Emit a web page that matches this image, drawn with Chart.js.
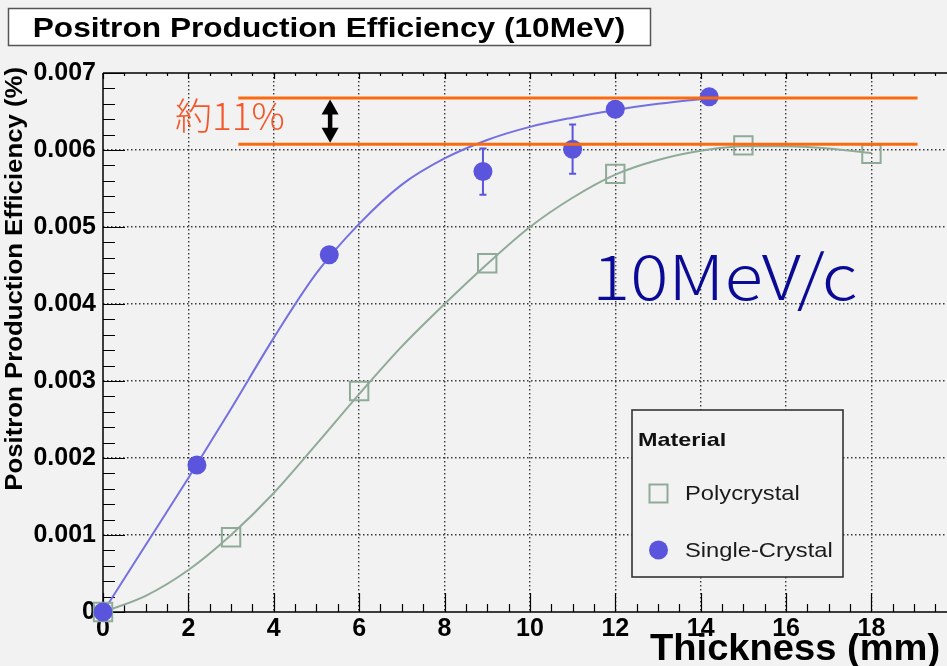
<!DOCTYPE html>
<html>
<head>
<meta charset="utf-8">
<script src="https://cdn.jsdelivr.net/npm/chart.js@4.4.1/dist/chart.umd.min.js"></script>
<style>
  html, body { margin: 0; padding: 0; background: #f2f2f2; }
  #wrap { width: 947px; height: 666px; position: relative; overflow: hidden; }
</style>
</head>
<body>
<div id="wrap"><canvas id="c" width="947" height="666"></canvas></div>
<script>
// Measured positron production efficiency (%) vs target thickness (mm), 10 MeV
const thicknessPoly   = [0, 3, 6, 9, 12, 15, 18];
const effPoly         = [0, 0.00097, 0.00287, 0.00453, 0.00569, 0.00606, 0.00595];

const thicknessSingle = [0, 2.2, 5.3, 8.9, 11.0, 12.0, 14.2];
const effSingle       = [0, 0.00191, 0.00464, 0.00572, 0.00601, 0.00653, 0.00669];
const errSingle       = [0, 0.00008, 0.00008, 0.00030, 0.00032, 0.00010, 0];

// Fitted curves through each material's points
const fitPolyX   = [0, 1, 2, 3, 4, 5, 6, 7, 8, 9, 10, 11, 12, 13, 14, 15, 16, 17, 18];
const fitPolyY   = [0, 0.00021, 0.000545, 0.00100, 0.001545, 0.00218, 0.00283, 0.00345, 0.00400,
                    0.00452, 0.00500, 0.00538, 0.00568, 0.00587, 0.00599, 0.00605, 0.00605, 0.00602, 0.00596];
const fitSingleX = [0, 1, 2, 3, 4, 5, 6, 7, 8, 9, 10, 11, 12, 13, 14, 14.2];
const fitSingleY = [0, 0.00087, 0.00174, 0.00264, 0.00356, 0.00440, 0.00504, 0.00555, 0.00589,
                    0.00613, 0.00630, 0.00642, 0.00652, 0.00660, 0.00666, 0.00667];

// Axis ticks
const xTicks = [0, 2, 4, 6, 8, 10, 12, 14, 16, 18];
const yTicks = [0, 0.001, 0.002, 0.003, 0.004, 0.005, 0.006, 0.007];

// Reference levels: single-crystal plateau vs polycrystal plateau
const refLevels = [0.006675, 0.006075];
const refLabel = '約11%';
const energyLabel = '10MeV/c';

const BLUE = '#5a55dc';
const BLUE_LINE = '#7470e2';
const GREEN = '#8fab98';
const ORANGE = '#fb6a0e';
const FONT = '"Liberation Sans", Arial, Helvetica, sans-serif';
const CJK = '"Noto Sans CJK JP", "Noto Sans", sans-serif';

const toPts = (xs, ys) => xs.map((x, i) => ({ x, y: ys[i] }));

// text drawn with a horizontal stretch factor
function stretchText(c, text, x, y, sx, align) {
  c.save();
  c.translate(x, y);
  c.scale(sx, 1);
  c.textAlign = align || 'left';
  c.fillText(text, 0, 0);
  c.restore();
}

const decorPlugin = {
  id: 'decor',
  beforeDraw(chart) {
    const c = chart.ctx;
    c.save();
    c.fillStyle = '#f2f2f2';
    c.fillRect(0, 0, chart.width, chart.height);
    // title box
    c.fillStyle = '#ffffff';
    c.fillRect(8, 8, 642, 37);
    c.strokeStyle = '#555';
    c.lineWidth = 1.5;
    c.strokeRect(8.5, 8.5, 642, 37);
    c.fillStyle = '#000';
    c.font = 'bold 28px ' + FONT;
    c.textBaseline = 'alphabetic';
    stretchText(c, 'Positron Production Efficiency (10MeV)', 329, 37, 1.13, 'center');
    c.restore();
  },
  beforeDatasetsDraw(chart) {
    const c = chart.ctx;
    const a = chart.chartArea;
    const xs = chart.scales.x, ys = chart.scales.y;
    c.save();
    c.strokeStyle = '#000';
    c.lineWidth = 1.5;
    // frame
    c.beginPath();
    c.moveTo(a.left, a.top); c.lineTo(a.right, a.top);
    c.moveTo(a.left, a.top); c.lineTo(a.left, a.bottom);
    c.moveTo(a.left, a.bottom); c.lineTo(a.right, a.bottom);
    c.stroke();
    // x ticks (major every 2, minor every 0.5), drawn inward
    c.lineWidth = 1.2;
    c.beginPath();
    for (let k = 0; k * 0.5 <= xs.max + 1e-9; k++) {
      const v = k * 0.5;
      const px = Math.round(xs.getPixelForValue(v)) + 0.5;
      const major = k % 4 === 0;
      c.moveTo(px, a.bottom); c.lineTo(px, a.bottom - (major ? 19 : 8));
      c.moveTo(px, a.top); c.lineTo(px, a.top + (major ? 6 : 3));
    }
    // y ticks (major every 0.001, minor every 0.0002)
    for (let k = 0; k <= 35; k++) {
      const v = k * 0.0002;
      const py = Math.round(ys.getPixelForValue(v)) + 0.5;
      const major = k % 5 === 0;
      c.moveTo(a.left, py); c.lineTo(a.left + (major ? 22 : 12), py);
    }
    c.stroke();
    // error bars on single-crystal points
    c.strokeStyle = BLUE;
    c.lineWidth = 2;
    c.beginPath();
    thicknessSingle.forEach((x, i) => {
      const e = errSingle[i];
      if (!e) return;
      const px = xs.getPixelForValue(x);
      const y1 = ys.getPixelForValue(effSingle[i] + e);
      const y2 = ys.getPixelForValue(effSingle[i] - e);
      c.moveTo(px, y1); c.lineTo(px, y2);
      c.moveTo(px - 3.5, y1); c.lineTo(px + 3.5, y1);
      c.moveTo(px - 3.5, y2); c.lineTo(px + 3.5, y2);
    });
    c.stroke();
    c.restore();
  },
  afterDraw(chart) {
    const c = chart.ctx;
    const xs = chart.scales.x, ys = chart.scales.y;
    c.save();

    // orange reference levels
    c.strokeStyle = ORANGE;
    c.lineWidth = 3;
    const xStart = xs.getPixelForValue(3.17);
    const xEnd = xs.getPixelForValue(19.08);
    refLevels.forEach(v => {
      const py = ys.getPixelForValue(v);
      c.beginPath(); c.moveTo(xStart, py); c.lineTo(xEnd, py); c.stroke();
    });

    // double-headed arrow between the levels
    const ax = xs.getPixelForValue(5.32);
    const yTop = ys.getPixelForValue(refLevels[0]) + 1.5;
    const yBot = ys.getPixelForValue(refLevels[1]) - 1.5;
    c.fillStyle = '#000';
    c.strokeStyle = '#000';
    c.lineWidth = 4.5;
    c.beginPath(); c.moveTo(ax, yTop + 12); c.lineTo(ax, yBot - 12); c.stroke();
    c.beginPath(); c.moveTo(ax, yTop); c.lineTo(ax - 8.5, yTop + 15); c.lineTo(ax + 8.5, yTop + 15); c.closePath(); c.fill();
    c.beginPath(); c.moveTo(ax, yBot); c.lineTo(ax - 8.5, yBot - 15); c.lineTo(ax + 8.5, yBot - 15); c.closePath(); c.fill();

    c.fillStyle = '#f4572a';
    c.font = '300 37px ' + CJK;
    c.textAlign = 'left';
    c.textBaseline = 'alphabetic';
    c.fillText(refLabel, 175, 130);

    c.fillStyle = '#0a0a96';
    c.font = '300 62px ' + CJK;
    stretchText(c, energyLabel, 592, 300, 1.15, 'left');

    // axis titles
    c.fillStyle = '#000';
    c.font = 'bold 37px ' + FONT;
    stretchText(c, 'Thickness (mm)', 650, 660, 1.03, 'left');

    c.save();
    c.translate(22, 67);
    c.rotate(-Math.PI / 2);
    c.scale(1.12, 1);
    c.font = 'bold 23px ' + FONT;
    c.textAlign = 'right';
    c.textBaseline = 'alphabetic';
    c.fillText('Positron Production Efficiency (%)', 0, 0);
    c.restore();

    // legend
    c.fillStyle = '#f2f2f2';
    c.fillRect(632, 410, 211, 167);
    c.strokeStyle = '#333';
    c.lineWidth = 1.6;
    c.strokeRect(632, 410, 211, 167);
    c.fillStyle = '#111';
    c.font = 'bold 19px ' + FONT;
    stretchText(c, 'Material', 638, 446, 1.23, 'left');
    const polyDs = chart.data.datasets[2];
    const singleDs = chart.data.datasets[3];
    c.strokeStyle = polyDs.borderColor;
    c.lineWidth = 2;
    c.strokeRect(649.5, 484.5, 18, 18);
    c.fillStyle = singleDs.backgroundColor;
    c.beginPath(); c.arc(658.5, 550, 9.5, 0, Math.PI * 2); c.fill();
    c.fillStyle = '#1a1a1a';
    c.font = '21px ' + FONT;
    stretchText(c, polyDs.label, 685, 500, 1.13, 'left');
    stretchText(c, singleDs.label, 685, 557, 1.13, 'left');
    c.restore();
  }
};

new Chart(document.getElementById('c'), {
  type: 'scatter',
  data: {
    datasets: [
      {
        label: 'Polycrystal fit',
        data: toPts(fitPolyX, fitPolyY),
        showLine: true, borderColor: GREEN, borderWidth: 2,
        pointRadius: 0, cubicInterpolationMode: 'monotone', order: 4
      },
      {
        label: 'Single-Crystal fit',
        data: toPts(fitSingleX, fitSingleY),
        showLine: true, borderColor: BLUE_LINE, borderWidth: 2,
        pointRadius: 0, cubicInterpolationMode: 'monotone', order: 3
      },
      {
        label: 'Polycrystal',
        data: toPts(thicknessPoly, effPoly),
        showLine: false, pointStyle: 'rect', pointRadius: 13, clip: false,
        borderColor: GREEN, borderWidth: 2, backgroundColor: 'rgba(0,0,0,0)', order: 2
      },
      {
        label: 'Single-Crystal',
        data: toPts(thicknessSingle, effSingle),
        showLine: false, pointStyle: 'circle', pointRadius: 9.5, clip: false,
        borderColor: BLUE, borderWidth: 0, backgroundColor: BLUE, order: 1
      }
    ]
  },
  options: {
    responsive: false,
    animation: false,
    devicePixelRatio: 1,
    layout: { autoPadding: false, padding: { top: 73, left: 0, right: 0, bottom: 0 } },
    plugins: { legend: { display: false }, tooltip: { enabled: false }, title: { display: false } },
    scales: {
      x: {
        type: 'linear', min: 0, max: 19.77,
        afterBuildTicks: s => { s.ticks = xTicks.map(v => ({ value: v })); },
        afterFit: s => { s.height = 54; s.paddingLeft = 0; s.paddingRight = 0; },
        grid: { color: c => (c.tick && c.tick.value === 0) ? 'rgba(0,0,0,0)' : '#3a3a3a', lineWidth: 1.4, drawTicks: false },
        border: { display: false, dash: [1.5, 2.5] },
        ticks: { color: '#000', font: { family: FONT, size: 25, weight: 'bold' }, padding: 2, maxRotation: 0, autoSkip: false }
      },
      y: {
        type: 'linear', min: 0, max: 0.007,
        afterBuildTicks: s => { s.ticks = yTicks.map(v => ({ value: v })); },
        afterFit: s => { s.width = 103; s.paddingTop = 0; s.paddingBottom = 0; },
        grid: { color: c => (c.tick && (c.tick.value === 0 || c.tick.value === 0.007)) ? 'rgba(0,0,0,0)' : '#3a3a3a', lineWidth: 1.4, drawTicks: false },
        border: { display: false, dash: [1.5, 2.5] },
        ticks: {
          color: '#000', font: { family: FONT, size: 25, weight: 'bold' }, padding: 7, autoSkip: false,
          callback: v => v === 0 ? '0' : v.toFixed(3)
        }
      }
    }
  },
  plugins: [decorPlugin]
});
</script>
</body>
</html>
